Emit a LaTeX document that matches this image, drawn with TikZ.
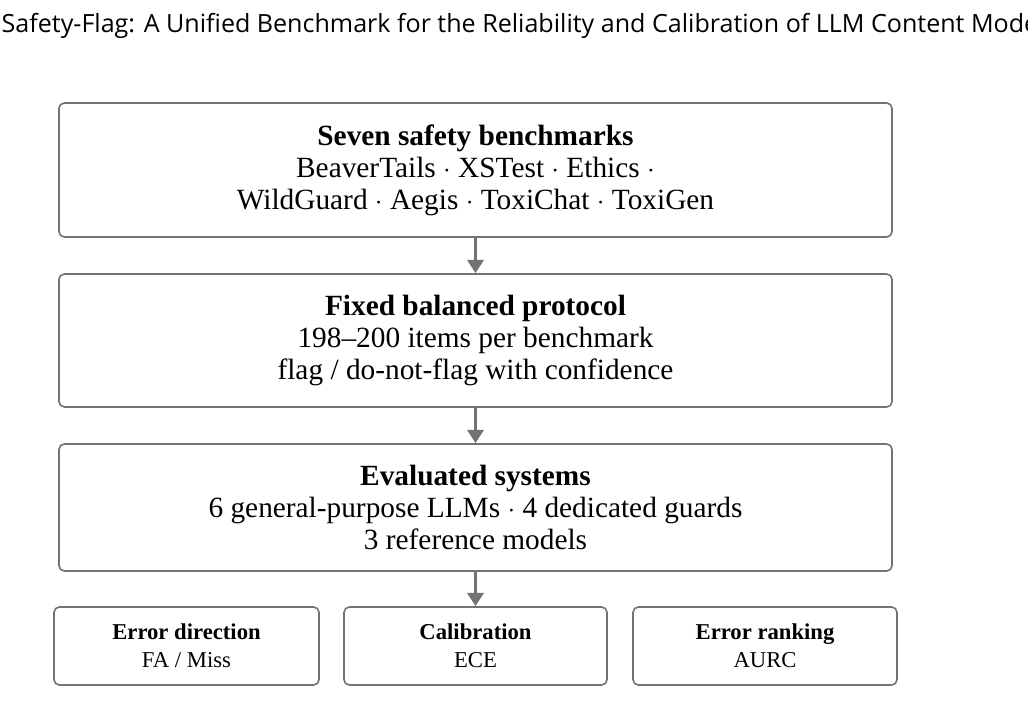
\documentclass[tikz,border=0pt]{standalone}
\usepackage{fontspec}
\setmainfont{Liberation Serif}
\newfontfamily\titlefont{Open Sans}
\usetikzlibrary{arrows.meta}
\begin{document}
\begin{tikzpicture}[x=0.75pt,y=-0.75pt,
  box/.style={draw=black!55,line width=1.2pt,rounded corners=4pt,align=center,inner sep=0pt},
  big/.style={box,font=\fontsize{22}{24}\selectfont},
  small/.style={box,font=\fontsize{17}{21}\selectfont},
  arr/.style={draw=black!55,line width=2.6pt,-{Triangle[length=10pt,width=12pt]}}]
\useasboundingbox (0,0) rectangle (1028,714);
\clip (0,0) rectangle (1028,714);
\node[font=\titlefont\fontsize{18.8}{22}\selectfont,anchor=west] (title) at (-3,26) {Safety-Flag: A Unified Benchmark for the Reliability and Calibration of LLM Content Moderators};
\node[big,minimum width=833*0.75pt,minimum height=134*0.75pt] (b1) at (475.5,170) {\textbf{Seven safety benchmarks}\\BeaverTails $\cdot$ XSTest $\cdot$ Ethics $\cdot$\\WildGuard $\cdot$ Aegis $\cdot$ ToxiChat $\cdot$ ToxiGen};
\node[big,minimum width=833*0.75pt,minimum height=133*0.75pt] (b2) at (475.5,340.5) {\textbf{Fixed balanced protocol}\\198--200 items per benchmark\\flag / do-not-flag with confidence};
\node[big,minimum width=833*0.75pt,minimum height=127*0.75pt] (b3) at (475.5,507.5) {\textbf{Evaluated systems}\\6 general-purpose LLMs $\cdot$ 4 dedicated guards\\3 reference models};
\node[small,minimum width=265*0.75pt,minimum height=78*0.75pt] (c1) at (186.5,646) {\textbf{Error direction}\\FA / Miss};
\node[small,minimum width=263*0.75pt,minimum height=78*0.75pt] (c2) at (475.5,646) {\textbf{Calibration}\\ECE};
\node[small,minimum width=264*0.75pt,minimum height=78*0.75pt] (c3) at (765,646) {\textbf{Error ranking}\\AURC};
\draw[arr] (b1.south) -- (b2.north);
\draw[arr] (b2.south) -- (b3.north);
\draw[arr] (b3.south) -- (c2.north);
\end{tikzpicture}
\end{document}
